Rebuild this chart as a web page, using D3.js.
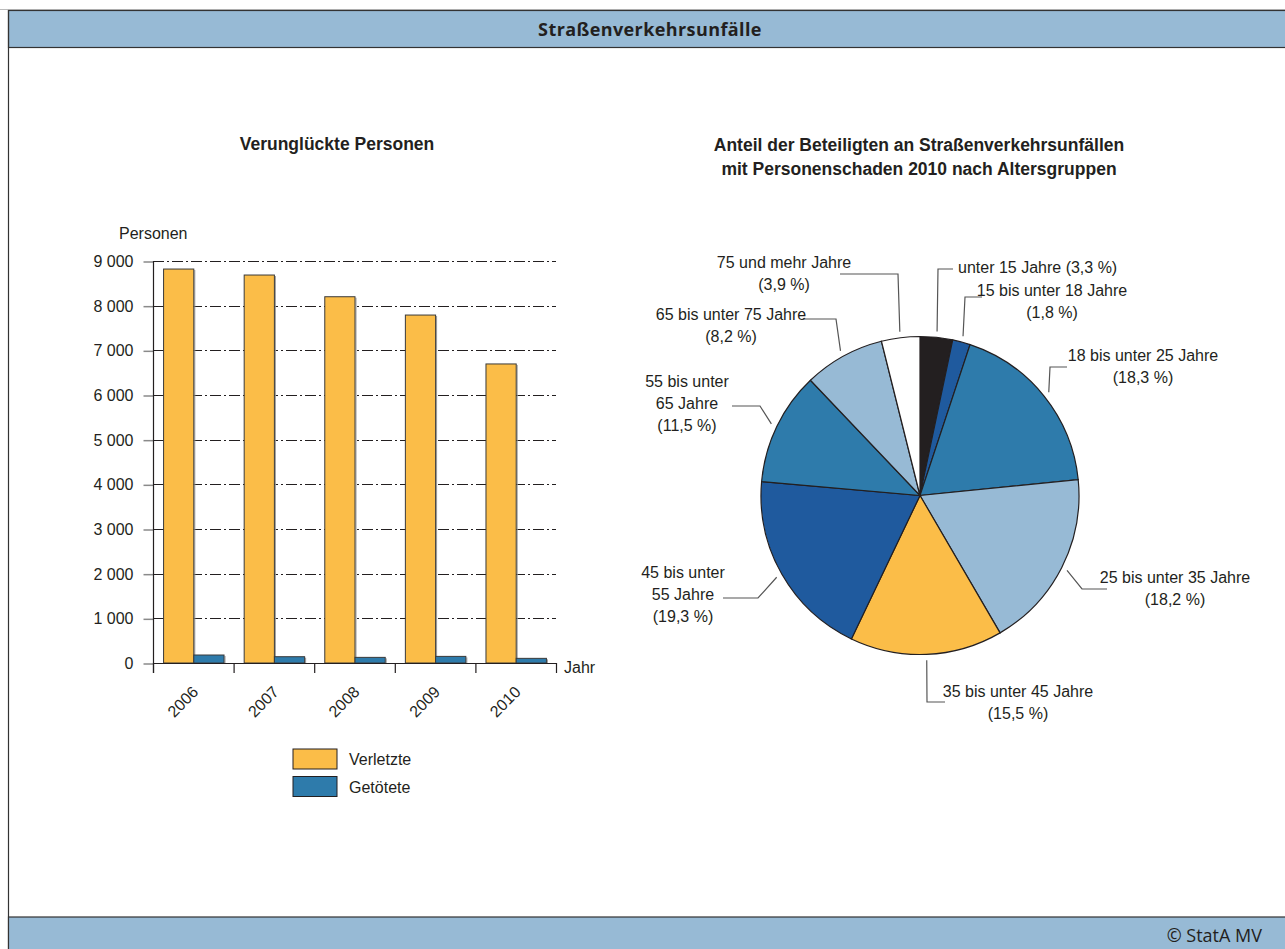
<!DOCTYPE html>
<html><head><meta charset="utf-8">
<script src="https://cdn.jsdelivr.net/npm/d3@7"></script>
<style>
body{margin:0;background:#fff;}
svg{display:block;}
text{font-family:"Liberation Sans",Arial,sans-serif;fill:#231f20;}
</style></head>
<body>
<svg id="c" width="1285" height="949"></svg>
<script>
// ---------- data ----------
const years = ["2006","2007","2008","2009","2010"];
const seriesNames = ["Verletzte","Getötete"];
const verletzte = [8820, 8686, 8200, 7790, 6695];
const getoetete = [179, 141, 126, 148, 104];
const yTicks = [0,1000,2000,3000,4000,5000,6000,7000,8000,9000];

const ageGroups = ["unter 15 Jahre","15 bis unter 18 Jahre","18 bis unter 25 Jahre","25 bis unter 35 Jahre","35 bis unter 45 Jahre","45 bis unter 55 Jahre","55 bis unter 65 Jahre","65 bis unter 75 Jahre","75 und mehr Jahre"];
const shares = [3.3, 1.8, 18.3, 18.2, 15.5, 19.3, 11.5, 8.2, 3.9];
const pieLabelLines = [
  ["unter 15 Jahre (3,3 %)"],
  ["15 bis unter 18 Jahre","(1,8 %)"],
  ["18 bis unter 25 Jahre","(18,3 %)"],
  ["25 bis unter 35 Jahre","(18,2 %)"],
  ["35 bis unter 45 Jahre","(15,5 %)"],
  ["45 bis unter","55 Jahre","(19,3 %)"],
  ["55 bis unter","65 Jahre","(11,5 %)"],
  ["65 bis unter 75 Jahre","(8,2 %)"],
  ["75 und mehr Jahre","(3,9 %)"]
];

// ---------- styles / layout ----------
const C = {orange:"#fbbd48", blue:"#2e7bab", dark:"#1f5a9e", light:"#97bad5", black:"#231f20", white:"#ffffff"};
const sliceColors = [C.black, C.dark, C.blue, C.light, C.orange, C.dark, C.blue, C.light, C.white];
const seriesColors = [C.orange, C.blue];
const FS = 16;
const TFS = 17.5;

const svg = d3.select("#c");

// frame
svg.append("line").attr("x1",0).attr("x2",1285).attr("y1",9.5).attr("y2",9.5).attr("stroke","#bbb");
svg.append("rect").attr("x",8.5).attr("y",10.5).attr("width",1290).attr("height",37).attr("fill","#97bad5").attr("stroke","#333").attr("stroke-width",1.2);
svg.append("line").attr("x1",8.5).attr("x2",8.5).attr("y1",10).attr("y2",949).attr("stroke","#333").attr("stroke-width",1.2);
svg.append("rect").attr("x",8.5).attr("y",917).attr("width",1290).attr("height",40).attr("fill","#97bad5").attr("stroke","#333").attr("stroke-width",1.2);
svg.append("text").attr("x",650).attr("y",36).attr("text-anchor","middle")
  .style("font-family","'Open Sans',sans-serif").style("font-weight","bold").style("font-size","18px").style("letter-spacing","0.4px")
  .text("Straßenverkehrsunfälle");
svg.append("text").attr("x",1262).attr("y",942).attr("text-anchor","end")
  .style("font-family","'Open Sans',sans-serif").style("font-size","18px")
  .text("© StatA MV");

// ---------- bar chart ----------
const x0 = d3.scaleBand().domain(years).range([153,556]).paddingInner(0).paddingOuter(0);
const x1 = d3.scaleBand().domain(seriesNames).range([x0.bandwidth()*0.125, x0.bandwidth()*0.875]).padding(0);
const y = d3.scaleLinear().domain([0,9000]).range([663,261]);

svg.append("text").attr("x",337).attr("y",150).attr("text-anchor","middle")
  .style("font-weight","bold").style("font-size",TFS+"px").text("Verunglückte Personen");
svg.append("text").attr("x",119).attr("y",239).style("font-size",FS+"px").text("Personen");

// gridlines
svg.append("g").selectAll("line").data(yTicks.filter(d=>d>0)).join("line")
  .attr("x1",153).attr("x2",556).attr("y1",d=>Math.round(y(d))+0.5).attr("y2",d=>Math.round(y(d))+0.5)
  .attr("stroke","#231f20").attr("stroke-width",1).attr("stroke-dasharray","11,3,2,3");

// y axis
const yAxis = d3.axisLeft(y).tickValues(yTicks).tickSize(10).tickPadding(10)
  .tickFormat(d=>d3.format(",")(d).replace(/,/g," "));
const gy = svg.append("g").attr("transform","translate(153.5,0.5)").call(yAxis);
gy.select(".domain").remove();
gy.selectAll(".tick line").attr("stroke","#8a8a8a").attr("stroke-width",1.5);
gy.selectAll(".tick text").style("font-size",FS+"px").style("font-family","'Liberation Sans',Arial,sans-serif").attr("fill","#231f20");
svg.append("line").attr("x1",153.5).attr("x2",153.5).attr("y1",261).attr("y2",673).attr("stroke","#231f20").attr("stroke-width",1.2);

// bars
const groups = svg.append("g").selectAll("g").data(years).join("g")
  .attr("transform",d=>`translate(${x0(d)},0)`);
const seriesVals = [verletzte, getoetete];
const barData = (d,i)=>seriesNames.map((s,j)=>({s, j, v:seriesVals[j][i]}));
// soft grey shadow on the right side of each bar
groups.selectAll("line.sh").data(barData).join("line").attr("class","sh")
  .attr("x1",d=>x1(d.s)+x1.bandwidth()+1.5).attr("x2",d=>x1(d.s)+x1.bandwidth()+1.5)
  .attr("y1",d=>y(d.v)+1).attr("y2",y(0))
  .attr("stroke","#9a9a9a").attr("stroke-width",1);
groups.selectAll("rect").data(barData).join("rect")
  .attr("x",d=>x1(d.s)+0.5).attr("width",x1.bandwidth())
  .attr("y",d=>y(d.v)).attr("height",d=>y(0)-y(d.v))
  .attr("fill",d=>seriesColors[d.j]).attr("stroke","#3a3a3a").attr("stroke-width",1);

// x axis
svg.append("line").attr("x1",153).attr("x2",556).attr("y1",663.5).attr("y2",663.5).attr("stroke","#231f20").attr("stroke-width",1.2);
const bounds = years.map(d=>x0(d)).concat([x0.range()[1]]);
svg.append("g").selectAll("line").data(bounds).join("line")
  .attr("x1",d=>d+0.5).attr("x2",d=>d+0.5).attr("y1",663).attr("y2",673).attr("stroke","#231f20").attr("stroke-width",1.2);
svg.append("g").selectAll("text").data(years).join("text")
  .attr("text-anchor","end")
  .attr("transform",d=>`translate(${x0(d)+x0.bandwidth()/2+6},${693}) rotate(-45)`)
  .style("font-size",FS+"px").text(d=>d);
svg.append("text").attr("x",564).attr("y",673).style("font-size",FS+"px").text("Jahr");

// legend
const leg = svg.append("g").selectAll("g").data(seriesNames).join("g")
  .attr("transform",(d,i)=>`translate(293,${749+i*27.5})`);
leg.append("rect").attr("x",0).attr("y",0).attr("width",44).attr("height",20)
  .attr("fill",(d,i)=>seriesColors[i]).attr("stroke","#231f20").attr("stroke-width",1);
leg.append("text").attr("x",56).attr("y",16).style("font-size",FS+"px").text(d=>d);

// ---------- pie chart ----------
svg.append("text").attr("x",919).attr("y",151).attr("text-anchor","middle")
  .style("font-weight","bold").style("font-size",TFS+"px").text("Anteil der Beteiligten an Straßenverkehrsunfällen");
svg.append("text").attr("x",919).attr("y",175).attr("text-anchor","middle")
  .style("font-weight","bold").style("font-size",TFS+"px").text("mit Personenschaden 2010 nach Altersgruppen");

const cx = 920, cy = 495.5, R = 159;
const pie = d3.pie().sort(null).value(d=>d)(shares);
const arc = d3.arc().innerRadius(0).outerRadius(R);
const gp = svg.append("g").attr("transform",`translate(${cx},${cy})`);
gp.selectAll("path").data(pie).join("path")
  .attr("d",arc).attr("fill",(d,i)=>sliceColors[i]).attr("stroke","#231f20").attr("stroke-width",1.2);

// label layout (elbow point, end point, text anchor x, first baseline, text-anchor)
const labelLayout = [
  {e:[938,269], t:[953,269], tx:958, ty:273, a:"start"},
  {e:[965,297], t:[982,297], tx:1052, ty:296, a:"middle"},
  {e:[1050,367], t:[1067,367], tx:1143, ty:361, a:"middle"},
  {e:[1082,589], t:[1107,589], tx:1175, ty:583, a:"middle"},
  {e:[927,702], t:[945,702], tx:1018, ty:697, a:"middle"},
  {e:[758,598], t:[723,598], tx:683, ty:578, a:"middle"},
  {e:[760,406], t:[732,406], tx:687, ty:387, a:"middle"},
  {e:[836,319], t:[803,319], tx:731, ty:320, a:"middle"},
  {e:[898,274], t:[840,274], tx:784, ty:268, a:"middle"}
];
const outer = d3.arc().innerRadius(R+6).outerRadius(R+6);
pie.forEach((p,i)=>{
  const c = outer.centroid(p);
  const L = labelLayout[i];
  svg.append("polyline")
    .attr("points",[[cx+c[0],cy+c[1]],L.e,L.t].map(q=>q.join(",")).join(" "))
    .attr("fill","none").attr("stroke","#555").attr("stroke-width",1.2);
  const t = svg.append("text").attr("text-anchor",L.a).style("font-size",FS+"px");
  pieLabelLines[i].forEach((line,k)=>{
    t.append("tspan").attr("x",L.tx).attr("y",L.ty+k*22).text(line);
  });
});
</script>
</body></html>
